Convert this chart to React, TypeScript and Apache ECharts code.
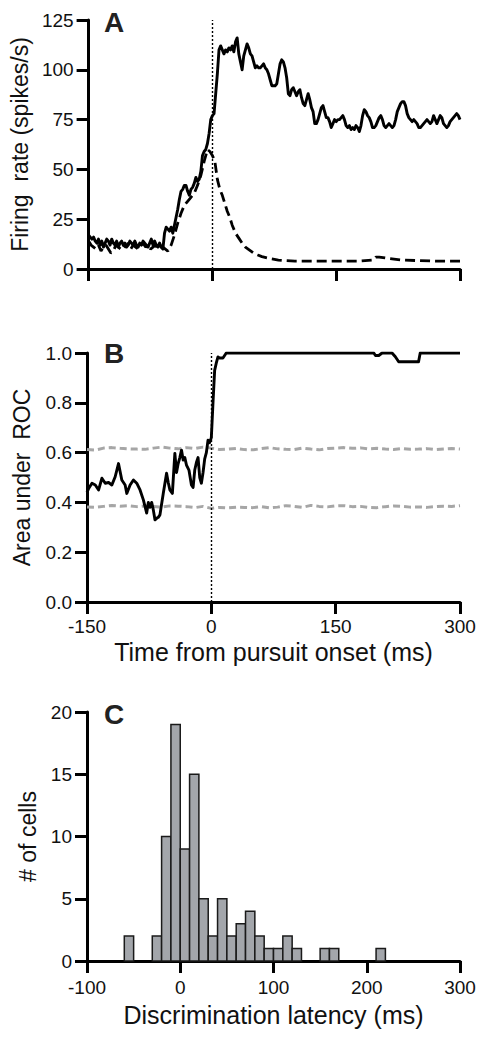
import React, { useEffect, useRef } from "react";
import * as echarts from "echarts";

// ---------- Panel A: firing rate ----------
const timeSolidA = [
  -150, -148, -146, -144, -142, -140, -138, -136, -134, -132, -130, -128, -126, -124, -122, -120, -118, -116, -114,
  -112, -110, -108, -106, -104, -102, -100, -98, -96, -94, -92, -90, -88, -86, -84, -82, -80, -78, -76, -74, -72, -70,
  -68, -66, -64, -62, -60, -58, -56, -54, -52, -50, -48, -46, -44, -42, -40, -38, -36,
  -34, -32, -30, -28, -26, -24, -22, -20, -18, -16, -14, -12, -10, -8, -6, -4, -2, 0, 2, 4, 6, 8, 10, 12, 14, 16, 18,
  20, 22, 24, 26, 28, 30, 32, 34, 36, 38, 40, 42, 44, 46, 48, 50, 52, 54, 56, 58, 60, 62, 64, 66, 68, 70, 72, 74, 76,
  78, 80, 82, 84, 86, 88, 90, 92, 94, 96, 98, 100, 102, 104, 106, 108, 110, 112, 114, 116, 118, 120, 122, 124, 126,
  128, 130, 132, 134, 136, 138, 140, 142, 144, 146, 148, 150, 152, 154, 156, 158, 160, 162, 164, 166, 168, 170, 172,
  174, 176, 178, 180, 182, 184, 186, 188, 190, 192, 194, 196, 198, 200, 202, 204, 206, 208, 210, 212, 214, 216, 218,
  220, 222, 224, 226, 228, 230, 232, 234, 236, 238, 240, 242, 244, 246, 248, 250, 252, 254, 256, 258, 260, 262, 264,
  266, 268, 270, 272, 274, 276, 278, 280, 282, 284, 286, 288, 290, 292, 294, 296, 298, 300,
];
const rateSolidA = [
  17, 16, 15, 16, 14, 13, 15, 12, 14, 11, 13, 15, 14, 12, 15, 13, 12, 14, 11,
  13, 14, 12, 13, 11, 12, 14, 13, 12, 14, 12, 11, 13, 12, 14, 13, 12, 11, 13, 15, 12, 14,
  12, 11, 13, 11, 10, 18, 21, 20, 19, 21, 18, 22, 26, 30, 35, 39, 40,
  42, 42, 39, 37, 40, 41, 43, 46, 44, 45, 49, 57, 59, 60, 63, 68, 75, 77, 78, 88, 98, 110, 112, 110, 108, 110, 109,
  111, 110, 112, 109, 114, 116, 108, 104, 100, 107, 110, 113, 111, 108, 107, 104, 101, 102, 101, 101, 102, 103, 101, 100, 98,
  95, 92, 92, 92, 93, 98, 103, 105, 104, 101, 96, 88, 87, 90, 91, 89, 87, 89, 90, 86, 83, 82, 85, 88, 85, 81, 79, 73, 73, 75,
  78, 81, 82, 79, 76, 76, 74, 71, 73, 75, 74, 75, 75, 76, 77, 75, 72, 71, 72, 70, 71, 70, 72, 71,
  69, 72, 77, 80, 79, 77, 76, 74, 71, 71, 72, 74, 76, 77, 75, 72, 71, 72, 73, 72, 71, 72, 75,
  79, 81, 83, 84, 84, 82, 78, 76, 75, 74, 75, 74, 73, 71, 71, 72, 73, 74, 75, 74, 73,
  74, 77, 75, 73, 75, 77, 76, 73, 72, 71, 72, 74, 75, 76, 77, 78, 77, 75, 76,
];
const timeDashedA = [
  -150, -147, -144, -141, -138, -135, -132, -129, -126, -123, -120, -117, -114, -111, -108, -105, -102, -99, -96, -93,
  -90, -87, -84, -81, -78, -75, -72, -69, -66, -63, -60, -57, -54, -50, -46, -42, -38, -34, -30, -26, -22, -18, -14,
  -10, -6, -3, 0, 3, 6, 9, 12, 15, 18, 21, 24, 28, 32, 36, 40, 45, 50, 55, 60, 70, 80, 90, 100, 120, 150, 180, 195,
  198, 202, 210, 220, 230, 250, 270, 300,
];
const rateDashedA = [
  14, 12, 11, 10, 12, 9, 11, 12, 10, 8, 9, 12, 11, 10, 12, 11, 13, 10, 12, 11,
  10, 12, 13, 11, 12, 10, 11, 12, 10, 11, 11, 10, 9, 12, 17, 23, 28, 32, 34, 36, 38, 42, 47,
  54, 60, 59, 57, 54, 45, 40, 37, 33, 29, 26, 22, 18, 15.5, 13, 11, 9.5, 8, 7, 6.2, 5.2, 4.5, 4.2, 4, 4, 4, 4, 4.5,
  6, 6, 5.5, 5, 4.5, 4.2, 4, 4,
];

// ---------- Panel B: area under ROC ----------
const timeRocB = [
  -150, -148, -144, -140, -136, -132, -128, -124, -120, -116, -112, -108, -104, -102, -98, -94, -90, -86, -82, -78,
  -76, -74, -72, -70, -68, -66, -64, -62, -58, -54, -52, -50, -47, -44, -42, -40, -38, -36, -34, -32, -30, -27, -24,
  -22, -20, -18, -16, -14, -12, -10, -8, -6, -4, -2, 0, 2, 4, 6, 8, 10, 12, 14, 16, 18, 20, 196, 198, 202, 206, 212,
  218, 222, 224, 226, 250, 252, 300,
];
const rocB = [
  0.44, 0.456, 0.477, 0.47, 0.45, 0.497, 0.477, 0.48, 0.47, 0.503, 0.556, 0.49, 0.47, 0.436, 0.47, 0.49, 0.477, 0.45,
  0.41, 0.357, 0.4, 0.38, 0.4, 0.37, 0.33, 0.336, 0.34, 0.35, 0.436, 0.517, 0.48, 0.45, 0.436, 0.597, 0.52, 0.556,
  0.58, 0.61, 0.57, 0.58, 0.55, 0.53, 0.47, 0.46, 0.53, 0.56, 0.58, 0.5, 0.477, 0.52, 0.575, 0.6, 0.65, 0.64, 0.66,
  0.8, 0.93, 0.96, 0.984, 0.98, 0.98, 0.98, 0.99, 1.0, 1.0, 1.0, 0.99, 0.99, 1.0, 1.0, 1.0, 0.985, 0.975, 0.965, 0.965,
  1.0, 1.0,
];
const timeChanceB = [
  -150, -140, -130, -120, -110, -100, -90, -80, -70, -60, -50, -40, -30, -20, -10, 0, 10, 20, 30, 40, 50, 60, 70, 80,
  90, 100, 110, 120, 130, 140, 150, 160, 170, 180, 190, 200, 210, 220, 230, 240, 250, 260, 270, 280, 290, 300,
];
const chanceUpperB = [
  0.612, 0.61, 0.618, 0.62, 0.617, 0.615, 0.614, 0.613, 0.618, 0.622, 0.618, 0.615, 0.62, 0.616, 0.622, 0.618, 0.612,
  0.614, 0.617, 0.612, 0.611, 0.616, 0.62, 0.615, 0.613, 0.612, 0.618, 0.614, 0.611, 0.616, 0.618, 0.62, 0.617, 0.619,
  0.615, 0.617, 0.614, 0.612, 0.616, 0.613, 0.614, 0.616, 0.612, 0.614, 0.616, 0.614,
];
const chanceLowerB = [
  0.382, 0.38, 0.384, 0.388, 0.385, 0.387, 0.383, 0.386, 0.384, 0.381, 0.386, 0.385, 0.383, 0.379, 0.384, 0.376, 0.38,
  0.378, 0.381, 0.38, 0.379, 0.383, 0.378, 0.381, 0.387, 0.384, 0.38, 0.388, 0.384, 0.382, 0.386, 0.387, 0.383, 0.384,
  0.38, 0.379, 0.383, 0.386, 0.384, 0.381, 0.382, 0.38, 0.383, 0.385, 0.384, 0.387,
];

// ---------- Panel C: histogram ----------
const binStartC = [-60, -30, -20, -10, 0, 10, 20, 30, 40, 50, 60, 70, 80, 90, 100, 110, 120, 150, 160, 210];
const binWidthC = 10;
const countsC = [2, 2, 10, 19, 9, 15, 5, 2, 5, 2, 3, 4, 2, 1, 1, 2, 1, 1, 1, 1];

const FONT = '"Liberation Sans", Arial, Helvetica, sans-serif';

const pairs = (xs: number[], ys: number[]) => xs.map((x, i) => [x, ys[i]]);

const axisBase = {
  axisLine: { show: true, onZero: false, lineStyle: { color: "#000", width: 3 } },
  axisTick: { show: true, inside: false, length: 12, lineStyle: { color: "#000", width: 3 } },
  splitLine: { show: false },
  axisLabel: { color: "#111", fontSize: 19, fontFamily: FONT },
  nameTextStyle: { color: "#111", fontSize: 23, fontFamily: FONT },
};
const xNameStyle = { color: "#111", fontSize: 25, fontFamily: FONT };

export default function App() {
  const ref = useRef<HTMLDivElement>(null);
  useEffect(() => {
    if (!ref.current) return;
    const chart = echarts.init(ref.current, undefined, { renderer: "svg" });
    const vline = {
      silent: true,
      symbol: ["none", "none"],
      label: { show: false },
      lineStyle: { color: "#000", type: [2, 2], width: 1.4 },
      data: [{ xAxis: 0 }],
    };
    chart.setOption({
      animation: false,
      backgroundColor: "#fff",
      grid: [
        { left: 87, top: 20, width: 373, height: 249 },
        { left: 87, top: 353, width: 373, height: 249 },
        { left: 87, top: 712, width: 373, height: 249 },
      ],
      xAxis: [
        { ...axisBase, type: "value", gridIndex: 0, min: -150, max: 300, interval: 150, axisLabel: { show: false } },
        {
          ...axisBase,
          type: "value",
          gridIndex: 1,
          min: -150,
          max: 300,
          interval: 150,
          axisLabel: { ...axisBase.axisLabel, margin: 15 },
          name: "Time from pursuit onset (ms)",
          nameLocation: "middle",
          nameGap: 37,
          nameTextStyle: xNameStyle,
        },
        {
          ...axisBase,
          type: "value",
          gridIndex: 2,
          min: -100,
          max: 300,
          interval: 100,
          axisLabel: { ...axisBase.axisLabel, margin: 17 },
          name: "Discrimination latency (ms)",
          nameLocation: "middle",
          nameGap: 41,
          nameTextStyle: xNameStyle,
        },
      ],
      yAxis: [
        {
          ...axisBase,
          type: "value",
          gridIndex: 0,
          min: 0,
          max: 125,
          interval: 25,
          axisLabel: { ...axisBase.axisLabel, margin: 15 },
          name: "Firing  rate (spikes/s)",
          nameLocation: "middle",
          nameRotate: 90,
          nameGap: 54,
        },
        {
          ...axisBase,
          type: "value",
          gridIndex: 1,
          min: 0,
          max: 1,
          interval: 0.2,
          axisLabel: { ...axisBase.axisLabel, margin: 15, formatter: (v: number) => v.toFixed(1) },
          name: "Area under  ROC",
          nameLocation: "middle",
          nameRotate: 90,
          nameGap: 54,
        },
        {
          ...axisBase,
          type: "value",
          gridIndex: 2,
          min: 0,
          max: 20,
          interval: 5,
          axisLabel: { ...axisBase.axisLabel, margin: 15 },
          name: "# of cells",
          nameLocation: "middle",
          nameRotate: 90,
          nameGap: 42,
        },
      ],
      series: [
        {
          type: "line",
          xAxisIndex: 0,
          yAxisIndex: 0,
          data: pairs(timeDashedA, rateDashedA),
          showSymbol: false,
          symbol: "none",
          lineStyle: { color: "#000", width: 2.8, type: [10, 5] },
          z: 3,
        },
        {
          type: "line",
          xAxisIndex: 0,
          yAxisIndex: 0,
          data: pairs(timeSolidA, rateSolidA),
          showSymbol: false,
          symbol: "none",
          lineStyle: { color: "#000", width: 2.9, join: "round" },
          markLine: vline,
          z: 4,
        },
        {
          type: "line",
          xAxisIndex: 1,
          yAxisIndex: 1,
          data: pairs(timeChanceB, chanceUpperB),
          showSymbol: false,
          symbol: "none",
          lineStyle: { color: "#a6a6a6", width: 3, type: [7, 4] },
          z: 2,
        },
        {
          type: "line",
          xAxisIndex: 1,
          yAxisIndex: 1,
          data: pairs(timeChanceB, chanceLowerB),
          showSymbol: false,
          symbol: "none",
          lineStyle: { color: "#a6a6a6", width: 3, type: [7, 4] },
          z: 2,
        },
        {
          type: "line",
          xAxisIndex: 1,
          yAxisIndex: 1,
          data: pairs(timeRocB, rocB),
          showSymbol: false,
          symbol: "none",
          lineStyle: { color: "#000", width: 2.9, join: "round" },
          markLine: vline,
          z: 4,
        },
        {
          type: "custom",
          xAxisIndex: 2,
          yAxisIndex: 2,
          data: binStartC.map((s, i) => [s, s + binWidthC, countsC[i]]),
          encode: { x: [0, 1], y: 2 },
          renderItem: (_params: any, api: any) => {
            const p0 = api.coord([api.value(0), api.value(2)]);
            const p1 = api.coord([api.value(1), 0]);
            return {
              type: "rect",
              shape: { x: p0[0], y: p0[1], width: p1[0] - p0[0], height: p1[1] - p0[1] },
              style: { fill: "#a3a6ab", stroke: "#1a1a1a", lineWidth: 1.5 },
            };
          },
          z: 1,
        },
      ],
      graphic: [
        { type: "text", left: 104, top: 8, style: { text: "A", font: `bold 28px ${FONT}`, fill: "#222" } },
        { type: "text", left: 104, top: 339, style: { text: "B", font: `bold 28px ${FONT}`, fill: "#222" } },
        { type: "text", left: 104, top: 700, style: { text: "C", font: `bold 28px ${FONT}`, fill: "#222" } },
      ],
    });
    return () => chart.dispose();
  }, []);
  return <div ref={ref} style={{ position: "absolute", left: 0, top: 0, width: 485, height: 1037 }} />;
}
